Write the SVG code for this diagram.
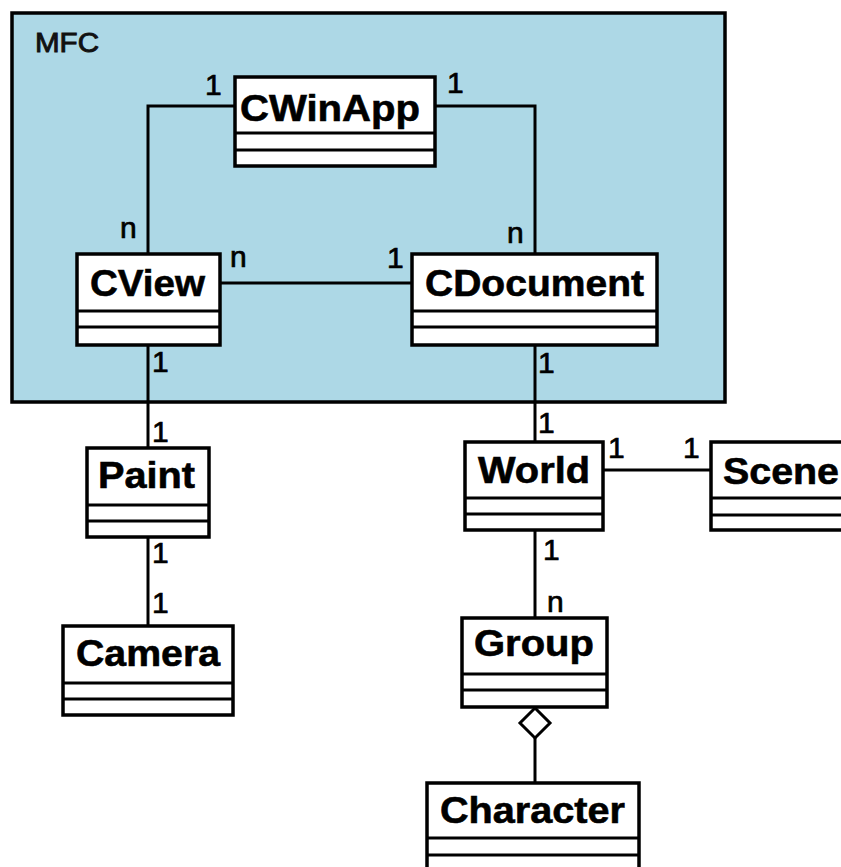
<svg xmlns="http://www.w3.org/2000/svg" width="841" height="867" viewBox="0 0 841 867">
  <style>
    .box { fill: #ffffff; stroke: #000000; stroke-width: 3.5; }
    .sep { stroke: #000000; stroke-width: 3; }
    .name { font-family: "Liberation Sans", Arial, sans-serif; font-weight: bold; font-size: 37px; fill: #000000; stroke: #000000; stroke-width: 0.6; }
    .mult { font-family: "Liberation Sans", Arial, sans-serif; font-size: 30px; fill: #000000; stroke: #000000; stroke-width: 0.7; }
    .edge { fill: none; stroke: #000000; stroke-width: 3; }
  </style>
  <rect width="841" height="867" fill="#ffffff"/>

  <!-- MFC package frame -->
  <g id="mfc">
    <rect x="12" y="13" width="713" height="389" fill="#ADD8E6" stroke="#000000" stroke-width="3.5"/>
    <text x="35" y="52" font-family="Liberation Sans, Arial, sans-serif" font-size="27" textLength="64" lengthAdjust="spacingAndGlyphs" fill="#111" stroke="#111" stroke-width="0.9">MFC</text>
  </g>

  <!-- associations -->
  <g id="connectors">
    <path class="edge" d="M235,106 H148 V254"/>
    <path class="edge" d="M435,106 H535 V254"/>
    <path class="edge" d="M220,283 H412"/>
    <path class="edge" d="M148,345 V448"/>
    <path class="edge" d="M148,537 V626"/>
    <path class="edge" d="M535,345 V442"/>
    <path class="edge" d="M603,470 H711"/>
    <path class="edge" d="M535,530 V618"/>
    <path class="edge" d="M535,738 V783"/>
    <polygon points="535,708 550,723 535,738 520,723" fill="#ffffff" stroke="#000000" stroke-width="3"/>

    <text class="mult" x="205" y="95">1</text>
    <text class="mult" x="447" y="93">1</text>
    <text class="mult" x="120" y="238">n</text>
    <text class="mult" x="230" y="267">n</text>
    <text class="mult" x="387" y="268">1</text>
    <text class="mult" x="507" y="243">n</text>
    <text class="mult" x="152" y="372">1</text>
    <text class="mult" x="538" y="373">1</text>
    <text class="mult" x="152" y="442">1</text>
    <text class="mult" x="538" y="433">1</text>
    <text class="mult" x="608" y="458">1</text>
    <text class="mult" x="683" y="458">1</text>
    <text class="mult" x="152" y="563">1</text>
    <text class="mult" x="152" y="613">1</text>
    <text class="mult" x="543" y="560">1</text>
    <text class="mult" x="547" y="612">n</text>
  </g>

  <!-- classes -->
  <g id="CWinApp">
    <rect class="box" x="235" y="77" width="200" height="89"/>
    <line class="sep" x1="235" y1="133" x2="435" y2="133"/>
    <line class="sep" x1="235" y1="150" x2="435" y2="150"/>
    <text class="name" x="240" y="121" textLength="180" lengthAdjust="spacingAndGlyphs">CWinApp</text>
  </g>

  <g id="CView">
    <rect class="box" x="77" y="254" width="143" height="91"/>
    <line class="sep" x1="77" y1="311" x2="220" y2="311"/>
    <line class="sep" x1="77" y1="327" x2="220" y2="327"/>
    <text class="name" x="90" y="296" textLength="115" lengthAdjust="spacingAndGlyphs">CView</text>
  </g>

  <g id="CDocument">
    <rect class="box" x="412" y="254" width="245" height="91"/>
    <line class="sep" x1="412" y1="311" x2="657" y2="311"/>
    <line class="sep" x1="412" y1="327" x2="657" y2="327"/>
    <text class="name" x="425" y="296" textLength="219" lengthAdjust="spacingAndGlyphs">CDocument</text>
  </g>

  <g id="Paint">
    <rect class="box" x="87" y="448" width="122" height="89"/>
    <line class="sep" x1="87" y1="505" x2="209" y2="505"/>
    <line class="sep" x1="87" y1="521" x2="209" y2="521"/>
    <text class="name" x="98" y="488" textLength="97" lengthAdjust="spacingAndGlyphs">Paint</text>
  </g>

  <g id="Camera">
    <rect class="box" x="63" y="626" width="170" height="89"/>
    <line class="sep" x1="63" y1="683" x2="233" y2="683"/>
    <line class="sep" x1="63" y1="699" x2="233" y2="699"/>
    <text class="name" x="76" y="666" textLength="144" lengthAdjust="spacingAndGlyphs">Camera</text>
  </g>

  <g id="World">
    <rect class="box" x="465" y="442" width="138" height="88"/>
    <line class="sep" x1="465" y1="498" x2="603" y2="498"/>
    <line class="sep" x1="465" y1="514" x2="603" y2="514"/>
    <text class="name" x="478" y="483" textLength="112" lengthAdjust="spacingAndGlyphs">World</text>
  </g>

  <g id="Scene">
    <rect class="box" x="711" y="442" width="140" height="88"/>
    <line class="sep" x1="711" y1="498" x2="851" y2="498"/>
    <line class="sep" x1="711" y1="515" x2="851" y2="515"/>
    <text class="name" x="723" y="484" textLength="116" lengthAdjust="spacingAndGlyphs">Scene</text>
  </g>

  <g id="Group">
    <rect class="box" x="462" y="618" width="145" height="89"/>
    <line class="sep" x1="462" y1="674" x2="607" y2="674"/>
    <line class="sep" x1="462" y1="690" x2="607" y2="690"/>
    <text class="name" x="474" y="656" textLength="120" lengthAdjust="spacingAndGlyphs">Group</text>
  </g>

  <g id="Character">
    <rect class="box" x="427" y="783" width="212" height="100"/>
    <line class="sep" x1="427" y1="838" x2="639" y2="838"/>
    <line class="sep" x1="427" y1="855" x2="639" y2="855"/>
    <text class="name" x="440" y="823" textLength="185" lengthAdjust="spacingAndGlyphs">Character</text>
  </g>
</svg>
